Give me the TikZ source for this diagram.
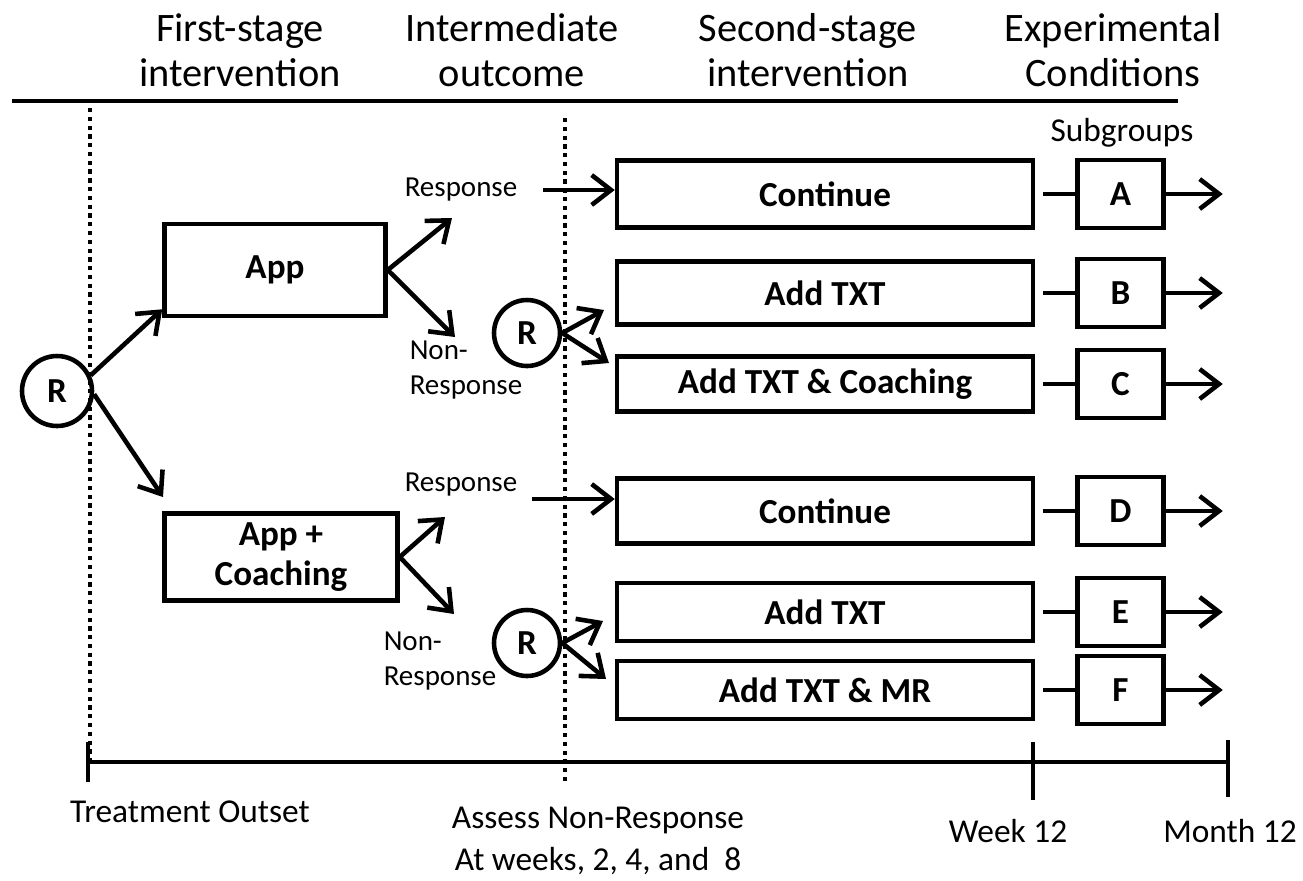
\documentclass[tikz,border=0pt]{standalone}
\usepackage{fontspec}
\setmainfont{Carlito}
\usetikzlibrary{arrows.meta,positioning}

\begin{document}
\begin{tikzpicture}[x=0.02cm,y=-0.02cm,line width=2.6pt,
    >={Straight Barb[length=11pt,width=17pt]},
    every node/.style={font=\fontsize{16.5}{20}\selectfont}]
  \tikzstyle{stageB}=[draw,rectangle,minimum width=8.32cm,inner sep=2pt,font=\fontsize{20}{23}\selectfont\bfseries]
  \tikzstyle{groupB}=[draw,rectangle,minimum width=1.72cm,minimum height=1.36cm,font=\fontsize{20}{23}\selectfont\bfseries]
  \tikzstyle{randB}=[draw,circle,inner sep=0pt,font=\fontsize{20}{23}\selectfont\bfseries]
  \tikzstyle{headB}=[align=center,font=\fontsize{23}{25.5}\selectfont]
  \tikzstyle{timeB}=[align=center,font=\fontsize{19}{24}\selectfont]
  \tikzstyle{dotline}=[line width=2.6pt,dash pattern=on 2.4pt off 2.6pt]
  \useasboundingbox (0,0) rectangle (1303,880);
  % Headings
  \node[headB] (h1) at (240,50) {First-stage\\intervention};
  \node[headB] (h2) at (512,50) {Intermediate\\outcome};
  \node[headB] (h3) at (808,50) {Second-stage\\intervention};
  \node[headB] (h4) at (1113,50) {Experimental\\Conditions};
  \draw (12,101) -- (1178,101);
  % Time line
  \draw[dotline] (90,108) -- (90,765);
  \draw[dotline] (565,118) -- (565,785);
  \draw (88,762) -- (1230,762);
  \draw (88,742) -- (88,782);
  \draw (1033,742) -- (1033,800);
  \draw (1228,740) -- (1228,797);
  \node[timeB] (t0) at (190,812) {Treatment Outset};
  \node[timeB] (t1) at (598,841) {Assess Non-Response\\At weeks, 2, 4, and~~8};
  \node[timeB] (t2) at (1008,831) {Week 12};
  \node[timeB] (t3) at (1230,831) {Month 12};
  % First stage
  \node[randB, minimum size=1.4cm] (r0) at (57,391) {R};
  \node[stageB, minimum width=4.42cm, minimum height=1.84cm] (app) at (275,270) {App};
  \node[stageB, minimum width=4.66cm, minimum height=1.74cm, align=center] (appc) at (281,557) {App +\\Coaching};
  \coordinate (a2) at (163,497);
  \draw[->] (r0.25) -- ([yshift=0.18cm]app.south west);
  \draw[->] (r0.-5) -- (a2);
  % Intermediate outcome
  \node (resp1) at (461,190) {Response};
  \node[align=left] (non1) at (466,370) {Non-\\Response};
  \node (resp2) at (461,485) {Response};
  \node[align=left] (non2) at (440,661) {Non-\\Response};
  \coordinate (up1) at (452,218);
  \coordinate (dn1) at (455,337);
  \coordinate (up2) at (445,517);
  \coordinate (dn2) at (454,614);
  \draw[->] (app.east) -- (up1);
  \draw[->] (app.east) -- (dn1);
  \draw[->] (appc.east) -- (up2);
  \draw[->] (appc.east) -- (dn2);
  \node[randB, minimum size=1.32cm] (r1) at (527,333) {R};
  \node[randB, minimum size=1.32cm] (r2) at (527,643) {R};
  % Second stage
  \node[stageB, minimum height=1.34cm] (cont1) at (825,194) {Continue};
  \node[stageB, minimum height=1.26cm] (txt1) at (825,293) {Add TXT};
  \node[stageB, minimum height=1.1cm] (txtc) at (825,384) {Add TXT \& Coaching};
  \node[stageB, minimum height=1.3cm] (cont2) at (825,511) {Continue};
  \node[stageB, minimum height=1.16cm] (txt2) at (825,612) {Add TXT};
  \node[stageB, minimum height=1.16cm] (txtmr) at (825,690) {Add TXT \& MR};
  \coordinate (s1) at (543,190);
  \coordinate (s2) at (532,499);
  \coordinate (r1u) at (604,310);
  \coordinate (r1d) at (609,363);
  \coordinate (r2u) at (603,621);
  \coordinate (r2d) at (606,679);
  \draw[->] (s1) -- (s1 -| cont1.west);
  \draw[->] (s2) -- (s2 -| cont2.west);
  \draw[->] (r1.east) -- (r1u);
  \draw[->] (r1.east) -- (r1d);
  \draw[->] (r2.east) -- (r2u);
  \draw[->] (r2.east) -- (r2d);
  % Subgroups
  \node[timeB] (sub) at (1122,133) {Subgroups};
  \node[groupB] (gA) [right=0.8cm of cont1] {A};
  \node[groupB] (gB) [right=0.8cm of txt1] {B};
  \node[groupB] (gC) [right=0.8cm of txtc] {C};
  \node[groupB] (gD) [right=0.8cm of cont2] {D};
  \node[groupB] (gE) [right=0.8cm of txt2] {E};
  \node[groupB] (gF) [right=0.8cm of txtmr] {F};
  \foreach \s/\g in {cont1/gA,txt1/gB,txtc/gC,cont2/gD,txt2/gE,txtmr/gF} {
    \draw[shorten <=0.16cm] (\s) -- (\g);
    \draw[->] (\g.east) -- ++(57,0);
  }
\end{tikzpicture}
\end{document}
